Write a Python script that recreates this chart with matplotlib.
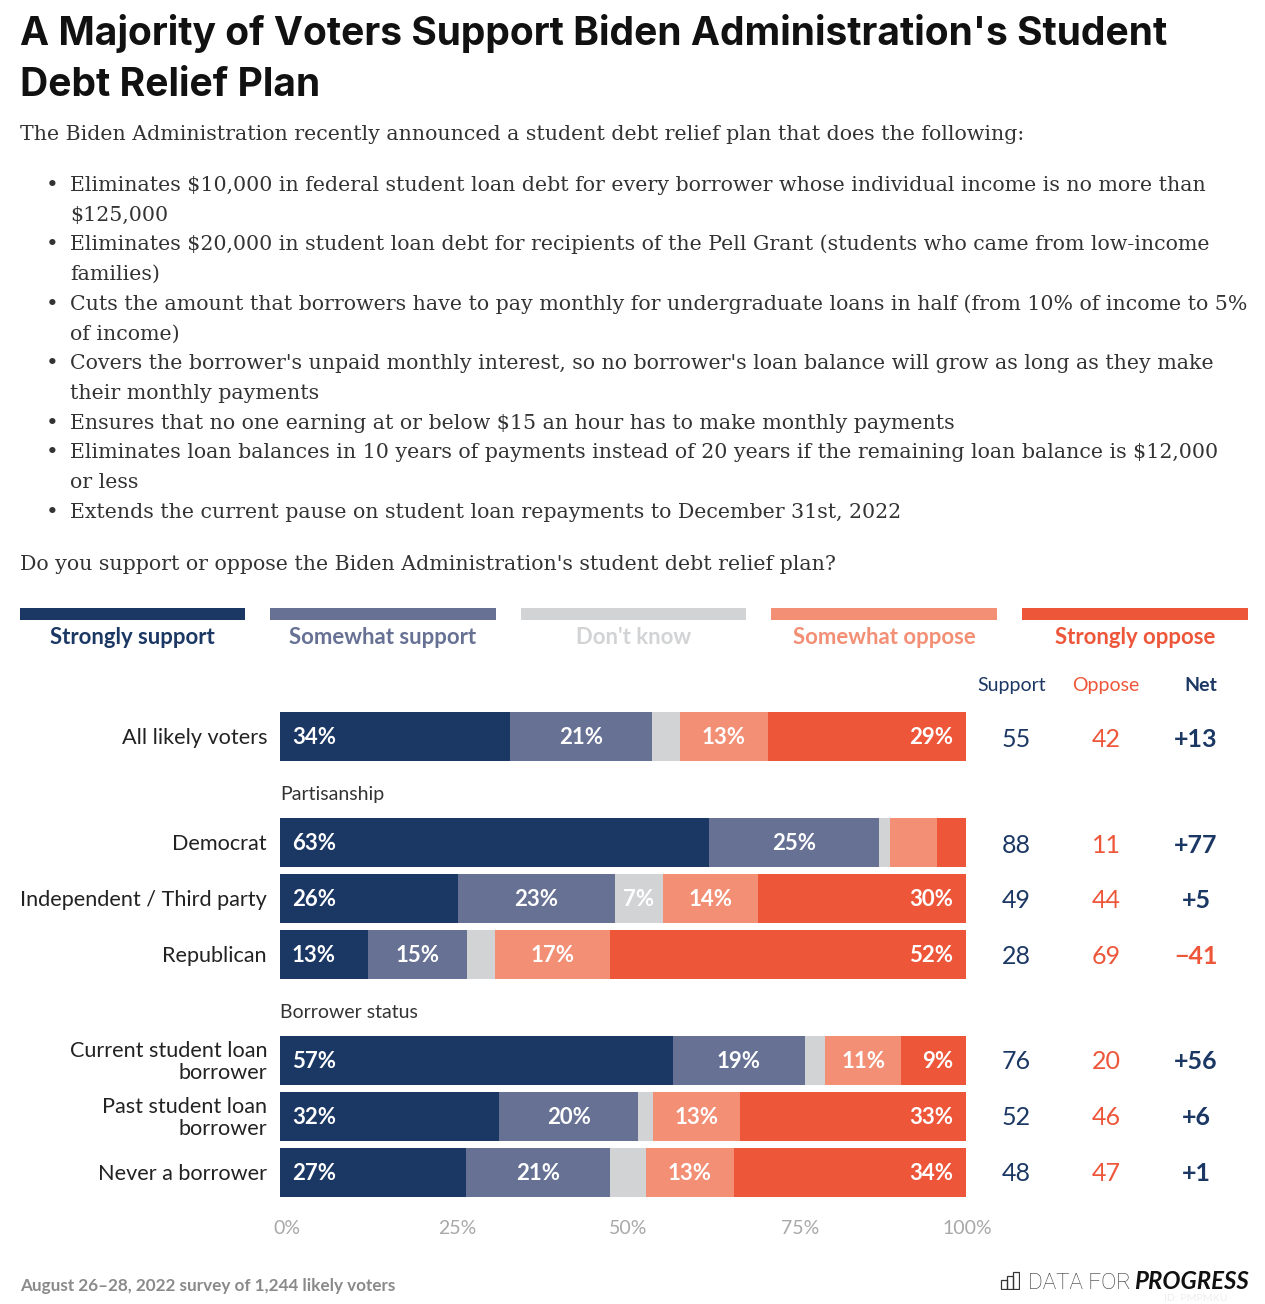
import matplotlib
matplotlib.use("Agg")
import matplotlib.pyplot as plt
from matplotlib.patches import Rectangle

# data
categories = ["All likely voters", "Democrat", "Independent / Third party", "Republican",
              "Current student loan\nborrower", "Past student loan\nborrower", "Never a borrower"]
strongly_support = [34, 63, 26, 13, 57, 32, 27]
somewhat_support = [21, 25, 23, 14.6, 19, 20.3, 21]
dont_know = [4, 1.5, 7, 4, 3, 2.2, 5.2]
somewhat_oppose = [13, 7, 14, 17, 11, 12.7, 12.8]
strongly_oppose = [29.3, 4.2, 30.4, 52.4, 9.4, 33, 33.8]
support = [55, 88, 49, 28, 76, 52, 48]
oppose = [42, 11, 44, 69, 20, 46, 47]
net = ["+13", "+77", "+5", "\u221241", "+56", "+6", "+1"]
series_names = ["Strongly support", "Somewhat support", "Don't know", "Somewhat oppose", "Strongly oppose"]
x_ticks = [0, 25, 50, 75, 100]
bullets = [
    "Eliminates $10,000 in federal student loan debt for every borrower whose individual income is no more than\n$125,000",
    "Eliminates $20,000 in student loan debt for recipients of the Pell Grant (students who came from low-income\nfamilies)",
    "Cuts the amount that borrowers have to pay monthly for undergraduate loans in half (from 10% of income to 5%\nof income)",
    "Covers the borrower's unpaid monthly interest, so no borrower's loan balance will grow as long as they make\ntheir monthly payments",
    "Ensures that no one earning at or below $15 an hour has to make monthly payments",
    "Eliminates loan balances in 10 years of payments instead of 20 years if the remaining loan balance is $12,000\nor less",
    "Extends the current pause on student loan repayments to December 31st, 2022",
]

NAVY, SLATE, GRAY, SALMON, RED = "#1B3763", "#667194", "#D1D3D5", "#F28F75", "#EE563A"
colors = [NAVY, SLATE, GRAY, SALMON, RED]
SANS = "Lato"
SERIF = "DejaVu Serif"
W, H = 1265, 1304

fig = plt.figure(figsize=(W / 100, H / 100), dpi=100, facecolor="white")


def txt(x, y, s, px, color="#222222", ha="left", weight="normal", family=SANS, **kw):
    # x, y in reference pixels, y = baseline from top
    return fig.text(x / W, 1 - y / H, s, fontsize=px * 0.72, color=color, ha=ha, va="baseline",
                    fontweight=weight, family=family, **kw)


# title and question text
txt(20, 45, "A Majority of Voters Support Biden Administration's Student", 39, "#111111", weight="bold", family="Inter")
txt(20, 96, "Debt Relief Plan", 39, "#111111", weight="bold", family="Inter")
txt(20, 139.5, "The Biden Administration recently announced a student debt relief plan that does the following:",
    20.55, "#333333", family=SERIF)
y = 191
for b in bullets:
    txt(46, y, "\u2022", 21.5, "#333333", family=SERIF)
    for line in b.split("\n"):
        txt(70, y, line, 20.45, "#333333", family=SERIF)
        y += 29.7
txt(20, 569.5, "Do you support or oppose the Biden Administration's student debt relief plan?",
    20.55, "#333333", family=SERIF)

# legend strip
legend_x = [(20, 245), (270, 496), (521, 746), (771, 997), (1022, 1248)]
for (x0, x1), name, col in zip(legend_x, series_names, colors):
    fig.add_artist(Rectangle((x0 / W, 1 - 620 / H), (x1 - x0) / W, 12 / H, color=col,
                             transform=fig.transFigure, lw=0))
    txt((x0 + x1) / 2, 644, name, 22.2, col, ha="center", weight="bold")

# stacked bars, axis spans 280..966 px wide, y data is pixels from top
ax = fig.add_axes([280 / W, 1 - 1240 / H, 686 / W, 540 / H])
ax.set_xlim(0, 100)
ax.set_ylim(1240, 700)
ax.axis("off")

rows = []
pos = 736.5
for i in range(len(categories)):
    rows.append(pos)
    pos += 106 if i in (0, 3) else 56

series = [strongly_support, somewhat_support, dont_know, somewhat_oppose, strongly_oppose]
for i, cat in enumerate(categories):
    vals = [s[i] for s in series]
    total = sum(vals)
    left = 0
    for j, v in enumerate(vals):
        w = v / total * 100
        ax.barh(rows[i], w, left=left, height=49, color=colors[j], linewidth=0)
        show = v >= 7 and not (cat == "Democrat" and j >= 3)
        if show:
            label = f"{round(v)}%"
            if j == 0:
                ax.annotate(label, (left, rows[i] + 1.5), xytext=(8.6, 0), textcoords="offset points", color="white",
                            fontsize=16, fontweight="bold", family=SANS, ha="left", va="center")
            elif j == 4:
                ax.annotate(label, (left + w, rows[i] + 1.5), xytext=(-9.5, 0), textcoords="offset points", color="white",
                            fontsize=16, fontweight="bold", family=SANS, ha="right", va="center")
            else:
                ax.text(left + w / 2, rows[i] + 1.5, label, color="white", fontsize=16, fontweight="bold",
                        family=SANS, ha="center", va="center")
        left += w

    # row label and the three numbers on the right
    parts = cat.split("\n")
    if len(parts) == 2:
        txt(267, rows[i] - 3.5, parts[0], 21.7, ha="right")
        txt(267, rows[i] + 18.5, parts[1], 21.7, ha="right")
    else:
        txt(267, rows[i] + 7.5, cat, 21.7, ha="right")
    num_y = rows[i] + 10.5 - 0.4 * i
    txt(1016, num_y, str(support[i]), 25, NAVY, ha="center")
    txt(1106, num_y, str(oppose[i]), 25, RED, ha="center")
    txt(1196, num_y, net[i], 25, NAVY if not net[i].startswith("\u2212") else RED, ha="center", weight="bold")

txt(1012, 691, "Support", 19.5, NAVY, ha="center")
txt(1106, 691, "Oppose", 19.5, RED, ha="center")
txt(1201, 691, "Net", 19.5, NAVY, ha="center", weight="bold")
txt(280, 800, "Partisanship", 19.5, "#333333")
txt(280, 1018, "Borrower status", 19.5, "#333333")

# tick labels sit a bit inside the ends in the original
tick_px = [287, 457, 628, 800, 967]
for t, px in zip(x_ticks, tick_px):
    txt(px, 1234, f"{t}%", 19.5, "#A8A8A8", ha="center")

txt(20, 1291, "August 26\u201328, 2022 survey of 1,244 likely voters", 17.1, "#8A8A8A", weight="bold")

# logo
logo = fig.add_axes([1000 / W, 1 - 1290 / H, 20 / W, 19 / H])
logo.set_xlim(0, 20)
logo.set_ylim(0, 19)
logo.axis("off")
for x0, h in zip([1, 7, 13], [9, 13, 17]):
    logo.add_patch(Rectangle((x0, 1), 5.5, h, fill=False, ec="#333333", lw=0.9))
txt(1028, 1289, "DATA FOR", 22.5, "#333333", family="Roboto", weight="light")
txt(1134, 1289, "PROGRESS", 24, "#111111", weight="bold", style="italic")
txt(1228, 1301, "ID: PMPMKU", 10.5, "#EDEDED", ha="right")

fig.savefig("out.png", dpi=100, facecolor="white")
